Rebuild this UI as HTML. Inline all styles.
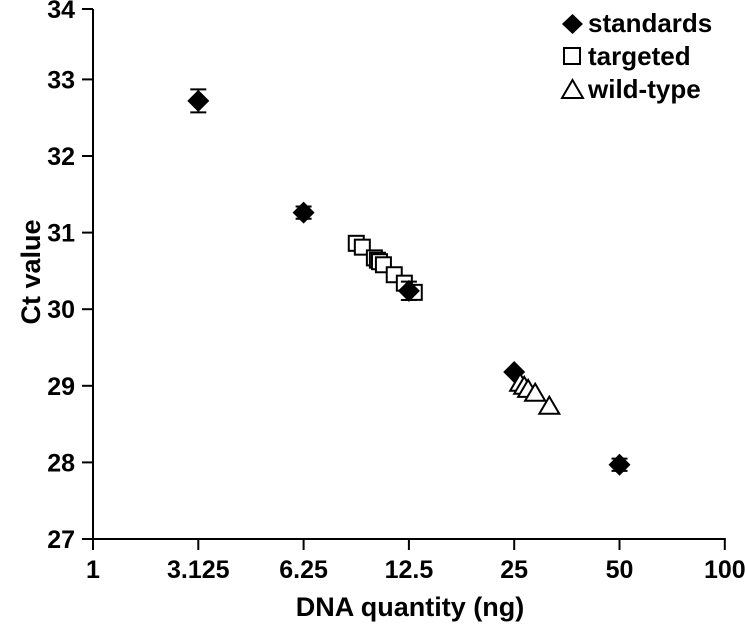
<!DOCTYPE html>
<html><head><meta charset="utf-8"><style>
html,body{margin:0;padding:0;background:#fff;}
svg{display:block;font-family:"Liberation Sans",Arial,sans-serif;font-weight:bold;}
</style></head><body>
<svg id="chart" width="745" height="628" viewBox="0 0 745 628" xmlns="http://www.w3.org/2000/svg">
<g id="axes"></g>
<g id="marks"></g>
<text x="0" y="0" transform="translate(40,272) rotate(-90)" text-anchor="middle" font-size="27">Ct value</text>
<text x="410" y="616" text-anchor="middle" font-size="27">DNA quantity (ng)</text>
<g>
<g>
<path d="M562,24 L572.5,14 L583,24 L572.5,34 Z" fill="#000"/>
<text x="588" y="32" font-size="26">standards</text></g>
<g>
<rect x="564" y="48" width="16" height="16" fill="none" stroke="#000" stroke-width="2"/>
<text x="588" y="65" font-size="26">targeted</text></g>
<g>
<path d="M562,98 L572.5,80 L583,98 Z" fill="none" stroke="#000" stroke-width="2"/>
<text x="588" y="98" font-size="26">wild-type</text></g>
</g>
</svg>
<script>
const xTickValues = [1, 3.125, 6.25, 12.5, 25, 50, 100];
const xTickLabels = ["1", "3.125", "6.25", "12.5", "25", "50", "100"];
const yTickValues = [27, 28, 29, 30, 31, 32, 33, 34];
const stdX = [3.125, 6.25, 12.5, 25, 50];
const stdY = [32.72, 31.26, 30.24, 29.18, 27.97];
const stdErr = [0.15, 0.08, 0.12, 0.0, 0.08];
const tgtX = [8.84, 9.2, 9.96, 10.16, 10.3, 10.57, 11.35, 12.13, 12.95];
const tgtY = [30.86, 30.81, 30.67, 30.64, 30.62, 30.58, 30.45, 30.34, 30.22];
const wtX = [26.0, 26.7, 27.4, 28.7, 31.5];
const wtY = [29.04, 29.0, 28.96, 28.91, 28.74];

const NS = "http://www.w3.org/2000/svg";
const X0 = 93, STEP = 105.3, Y0 = 539, YU = 76.6;
function xs(v){
  if (v < 3.125) return X0 + STEP * Math.log(v) / Math.log(3.125);
  return X0 + STEP + STEP * Math.log2(v / 3.125);
}
function ys(v){ return Math.max(9, Y0 - (v - 27) * YU); }
function mk(tag, attrs, parent){
  const e = document.createElementNS(NS, tag);
  for (const k in attrs) e.setAttribute(k, attrs[k]);
  parent.appendChild(e);
  return e;
}
const axes = document.getElementById("axes");
const marks = document.getElementById("marks");
let e;
e = mk("line", {x1: X0, y1: ys(34), x2: X0, y2: Y0, stroke: "#000", "stroke-width": 2}, axes);


e = mk("line", {x1: X0 - 1, y1: Y0, x2: xs(100) + 1, y2: Y0, stroke: "#000", "stroke-width": 2}, axes);


yTickValues.forEach(v => {
  const y = ys(v);
  let t = mk("line", {x1: X0 - 11, y1: y, x2: X0, y2: y, stroke: "#000", "stroke-width": 2}, axes);
  
  
  let l = mk("text", {x: 75, y: y + 9, "text-anchor": "end", "font-size": 25}, axes);
  l.textContent = String(v);
  
  
});
xTickValues.forEach((v, i) => {
  const x = xs(v);
  let t = mk("line", {x1: x, y1: Y0, x2: x, y2: Y0 + 11, stroke: "#000", "stroke-width": 2}, axes);
  
  
  let l = mk("text", {x: x, y: Y0 + 39, "text-anchor": "middle", "font-size": 25}, axes);
  l.textContent = xTickLabels[i];
  
  
});
tgtX.forEach((v, i) => {
  const x = xs(v), y = ys(tgtY[i]);
  let r = mk("rect", {x: x - 7.5, y: y - 7.5, width: 15, height: 15, fill: "#fff", stroke: "#000", "stroke-width": 2}, marks);
  
  
});
stdX.forEach((v, i) => {
  const x = xs(v), y = ys(stdY[i]);
  if (stdErr[i] > 0) {
    const yt = Y0 - (stdY[i] + stdErr[i] - 27) * YU, yb = Y0 - (stdY[i] - stdErr[i] - 27) * YU;
    let eb = mk("path", {d: `M${x},${yt} L${x},${yb} M${x-8},${yt} L${x+8},${yt} M${x-8},${yb} L${x+8},${yb}`, stroke: "#000", "stroke-width": 2, fill: "none"}, marks);
    
    
  }
  let d = mk("path", {d: `M${x-11},${y} L${x},${y-11} L${x+11},${y} L${x},${y+11} Z`, fill: "#000"}, marks);
  
  
});
wtX.forEach((v, i) => {
  const x = xs(v), y = ys(wtY[i]);
  let t = mk("path", {d: `M${x-10},${y+8} L${x},${y-9} L${x+10},${y+8} Z`, fill: "#fff", stroke: "#000", "stroke-width": 2}, marks);
  
  
});
</script>
</body></html>
